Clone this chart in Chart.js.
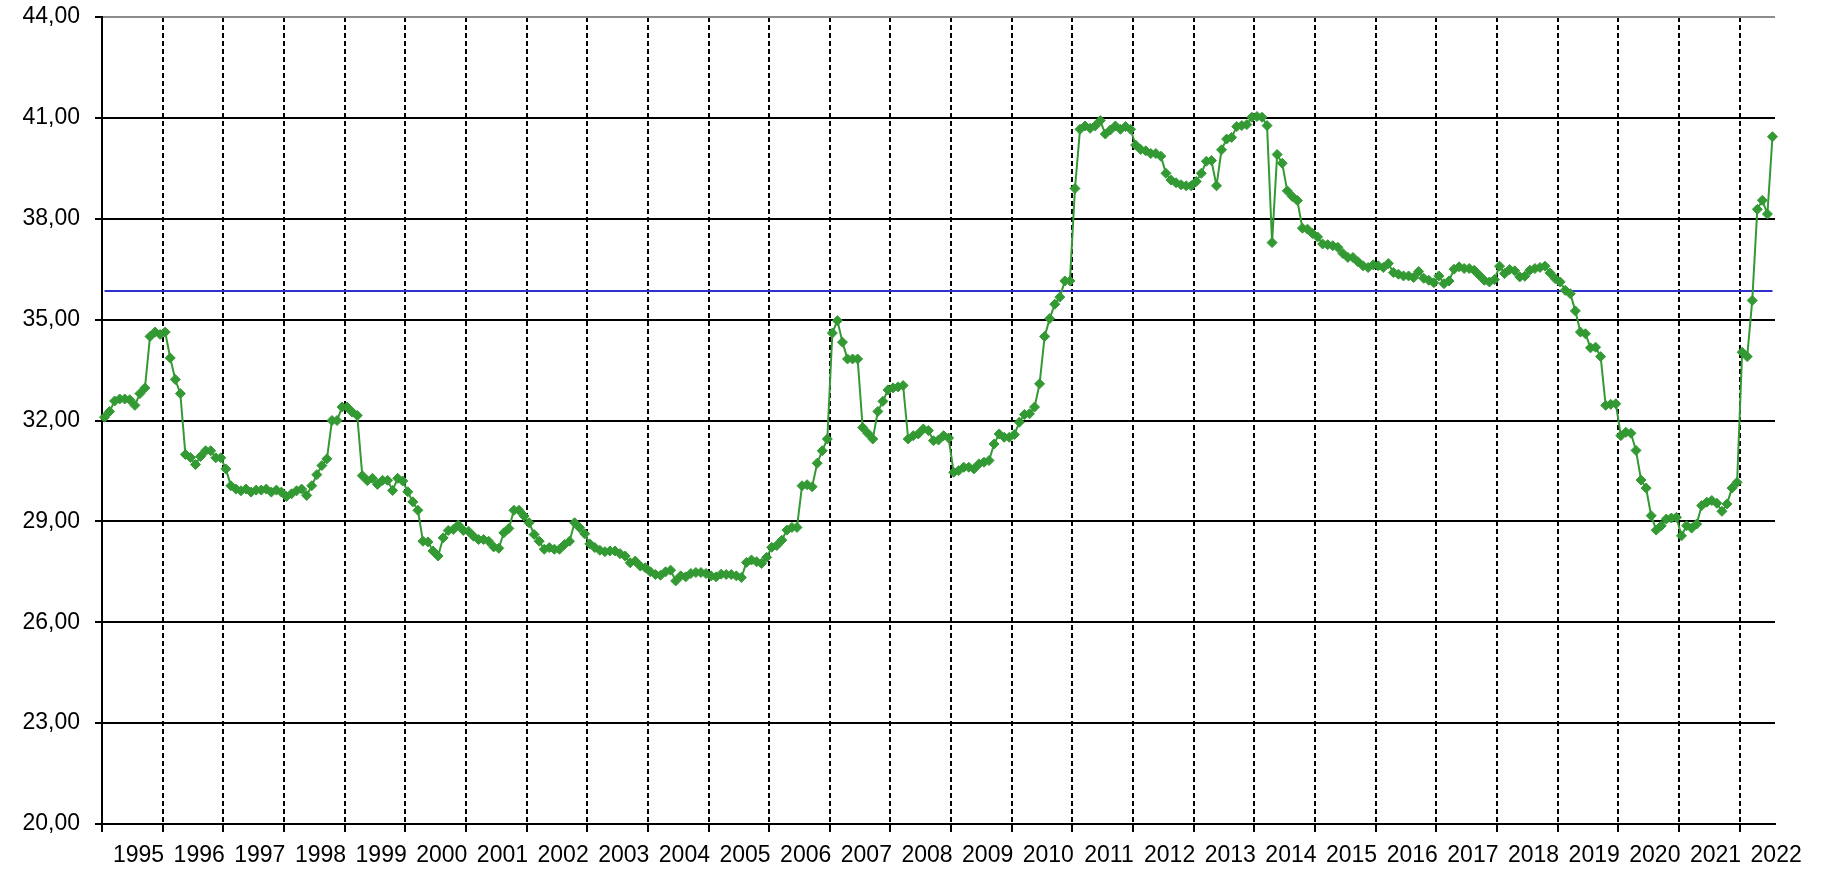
<!DOCTYPE html>
<html>
<head>
<meta charset="utf-8">
<script src="https://cdn.jsdelivr.net/npm/chart.js@4.4.1/dist/chart.umd.min.js"></script>
<style>
  html, body { margin: 0; padding: 0; background: #fff; }
  #wrap { width: 1821px; height: 869px; }
</style>
</head>
<body>
<div id="wrap"><canvas id="priceChart" width="1821" height="869"></canvas></div>
<script>
// years on the axis, the last one is only partly filled
const years = ['1995', '1996', '1997', '1998', '1999', '2000', '2001', '2002', '2003', '2004',
  '2005', '2006', '2007', '2008', '2009', '2010', '2011', '2012', '2013', '2014',
  '2015', '2016', '2017', '2018', '2019', '2020', '2021', '2022'];
const monthsInLastYear = 7;

// monthly values, one row per year
const values = [
  32.10, 32.27, 32.58, 32.64, 32.64, 32.62, 32.45, 32.80, 32.97, 34.50, 34.63, 34.56,
  34.63, 33.86, 33.22, 32.80, 30.99, 30.90, 30.69, 30.93, 31.10, 31.10, 30.89, 30.89,
  30.56, 30.06, 29.96, 29.91, 29.96, 29.87, 29.93, 29.93, 29.96, 29.87, 29.93, 29.87,
  29.74, 29.82, 29.91, 29.96, 29.77, 30.06, 30.39, 30.66, 30.86, 32.00, 32.00, 32.40,
  32.40, 32.25, 32.15, 30.36, 30.21, 30.28, 30.10, 30.22, 30.22, 29.92, 30.28, 30.20,
  29.88, 29.58, 29.33, 28.41, 28.39, 28.12, 27.97, 28.51, 28.73, 28.76, 28.89, 28.73,
  28.71, 28.56, 28.46, 28.46, 28.41, 28.24, 28.20, 28.66, 28.79, 29.33, 29.33, 29.16,
  28.96, 28.61, 28.41, 28.17, 28.22, 28.17, 28.17, 28.31, 28.41, 28.96, 28.81, 28.63,
  28.33, 28.22, 28.14, 28.10, 28.12, 28.12, 28.04, 27.97, 27.77, 27.82, 27.67, 27.62,
  27.50, 27.42, 27.40, 27.50, 27.55, 27.23, 27.38, 27.35, 27.45, 27.48, 27.48, 27.45,
  27.38, 27.35, 27.43, 27.42, 27.42, 27.38, 27.33, 27.78, 27.85, 27.80, 27.75, 27.93,
  28.23, 28.28, 28.44, 28.74, 28.82, 28.82, 30.06, 30.09, 30.03, 30.73, 31.10, 31.45,
  34.60, 34.97, 34.33, 33.83, 33.83, 33.83, 31.79, 31.62, 31.45, 32.27, 32.57, 32.91,
  32.97, 33.00, 33.04, 31.45, 31.55, 31.60, 31.75, 31.70, 31.40, 31.42, 31.55, 31.48,
  30.46, 30.51, 30.61, 30.61, 30.56, 30.71, 30.76, 30.81, 31.30, 31.60, 31.50, 31.50,
  31.58, 31.95, 32.18, 32.20, 32.40, 33.09, 34.50, 35.03, 35.46, 35.67, 36.15, 36.15,
  38.90, 40.66, 40.76, 40.69, 40.76, 40.92, 40.52, 40.64, 40.76, 40.66, 40.74, 40.66,
  40.19, 40.06, 40.02, 39.94, 39.94, 39.86, 39.35, 39.15, 39.07, 39.01, 38.98, 38.98,
  39.11, 39.35, 39.71, 39.73, 38.98, 40.05, 40.37, 40.42, 40.74, 40.77, 40.80, 41.02,
  41.04, 41.02, 40.77, 37.29, 39.91, 39.65, 38.83, 38.66, 38.54, 37.72, 37.69, 37.56,
  37.46, 37.25, 37.23, 37.20, 37.15, 36.97, 36.85, 36.85, 36.72, 36.60, 36.55, 36.63,
  36.60, 36.55, 36.67, 36.40, 36.35, 36.30, 36.30, 36.25, 36.43, 36.23, 36.17, 36.10,
  36.30, 36.07, 36.15, 36.50, 36.57, 36.52, 36.52, 36.47, 36.32, 36.17, 36.12, 36.19,
  36.59, 36.37, 36.49, 36.45, 36.27, 36.29, 36.47, 36.52, 36.55, 36.59, 36.39, 36.22,
  36.12, 35.87, 35.77, 35.26, 34.63, 34.58, 34.16, 34.18, 33.90, 32.45, 32.48, 32.50,
  31.55, 31.65, 31.62, 31.11, 30.23, 29.99, 29.17, 28.74, 28.87, 29.07, 29.10, 29.12,
  28.57, 28.87, 28.80, 28.92, 29.47, 29.57, 29.62, 29.54, 29.30, 29.52, 29.99, 30.16,
  34.03, 33.90, 35.57, 38.28, 38.55, 38.14, 40.44
];

const yTickValues = [20, 23, 26, 29, 32, 35, 38, 41, 44];
const refLine = [35.85];

// one category per month
const labels = [];
years.forEach((y, k) => {
  const n = k === years.length - 1 ? monthsInLastYear : 12;
  for (let m = 1; m <= n; m++) labels.push(y + '-' + String(m).padStart(2, '0'));
});

Chart.defaults.font.family = "'Liberation Sans', Arial, sans-serif";
Chart.defaults.font.size = 23;
Chart.defaults.color = '#000';

const ctx = document.getElementById('priceChart');

new Chart(ctx, {
  type: 'line',
  data: {
    labels: labels,
    datasets: [{
      data: values,
      borderColor: '#339933',
      backgroundColor: '#339933',
      borderWidth: 2,
      pointStyle: 'rectRot',
      pointRadius: 5,
      pointBorderWidth: 1,
      tension: 0
    }, {
      data: [
        { x: labels[0], y: refLine[0] },
        { x: labels[labels.length - 1], y: refLine[0] }
      ],
      borderColor: '#3030cc',
      borderWidth: 2,
      pointRadius: 0,
      tension: 0
    }]
  },
  options: {
    responsive: false,
    animation: false,
    layout: { padding: { top: 17, right: 46, left: 0, bottom: 0 } },
    plugins: {
      legend: { display: false },
      tooltip: { enabled: false }
    },
    scales: {
      x: {
        offset: true,
        grid: {
          offset: true,
          lineWidth: 2,
          tickLength: 8,
          tickBorderDash: [],
          color: c => c.index === labels.length ? '#8c8c8c' : (c.index % 12 === 0 ? '#000' : 'rgba(0,0,0,0)'),
          tickColor: c => (c.index % 12 === 0 && c.index !== labels.length) ? '#000' : 'rgba(0,0,0,0)'
        },
        border: {
          color: '#000',
          width: 2,
          dash: c => c.index === labels.length ? [] : [5, 3]
        },
        ticks: {
          autoSkip: false,
          maxRotation: 0,
          minRotation: 0,
          labelOffset: 34,
          padding: 10,
          callback: (v, i) => i % 12 === 0 ? labels[i].slice(0, 4) : ''
        },
        afterFit: s => { s.height = 45; s.paddingLeft = 0; s.paddingRight = 0; }
      },
      y: {
        min: 20,
        max: 44,
        afterBuildTicks: s => { s.ticks = yTickValues.map(v => ({ value: v })); },
        ticks: {
          padding: 15,
          callback: v => v.toFixed(2).replace('.', ',')
        },
        grid: {
          lineWidth: 2,
          tickLength: 7,
          tickColor: '#000',
          color: c => (c.tick && c.tick.value === 44) ? '#8c8c8c' : '#000'
        },
        border: { color: '#000', width: 2 },
        afterFit: s => { s.width = 102; s.paddingTop = 0; s.paddingBottom = 0; }
      }
    }
  }
});
</script>
</body>
</html>
